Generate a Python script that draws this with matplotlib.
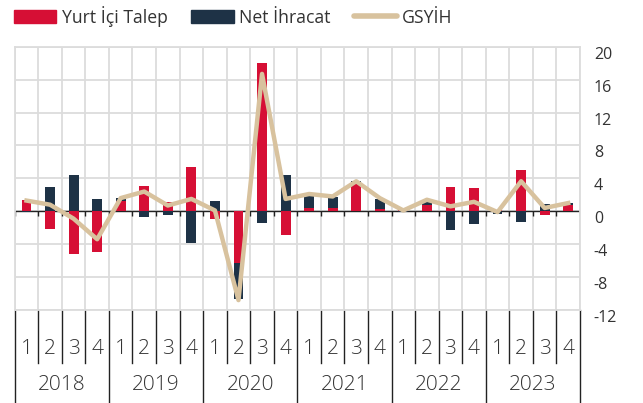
import numpy as np
import matplotlib.pyplot as plt
from matplotlib.patches import Patch
from matplotlib.lines import Line2D
from matplotlib.transforms import blended_transform_factory

plt.rcParams['font.family'] = ['Open Sans', 'DejaVu Sans']
plt.rcParams['axes.unicode_minus'] = False

# datos
years = ['2018', '2019', '2020', '2021', '2022', '2023']
quarters = ['1', '2', '3', '4']
yurt_ici = [1.4, -2.15, -5.2, -4.9, 1.3, 3.1, 1.1, 5.4,
            -1.0, -6.3, 18.0, -2.9, 0.4, 0.4, 3.4, 0.3,
            0.1, 0.8, 2.9, 2.8, 0.1, 5.0, -0.5, 0.75]
net_ihracat = [-0.1, 2.9, 4.4, 1.45, 0.3, -0.7, -0.5, -3.9,
               1.2, -4.4, -1.4, 4.4, 1.4, 1.3, 0.3, 1.25,
               -0.1, 0.4, -2.3, -1.5, -0.3, -1.35, 0.9, 0.25]
gsyih = [1.3, 0.8, -0.9, -3.4, 1.6, 2.4, 0.7, 1.5,
         0.1, -10.8, 16.7, 1.5, 2.1, 1.8, 3.65, 1.6,
         0.1, 1.4, 0.6, 1.15, -0.1, 3.65, 0.4, 1.0]

red = '#D60F35'
navy = '#1E3246'
beige = '#D8C29E'
grid = '#DCDCDC'

fig = plt.figure(figsize=(6.43, 4.03), dpi=100)
ax = fig.add_axes([0.0229, 0.2308, 0.8791, 0.6532])

n = len(yurt_ici)
x = np.arange(n) + 0.5
a = np.array(yurt_ici)
b = np.array(net_ihracat)

# apilado: positivos sobre positivos, negativos bajo negativos
a_bot = np.zeros(n)
b_bot = np.where(np.sign(b) == np.sign(a), a, 0.0)

w = 0.42
ax.bar(x, a, w, bottom=a_bot, color=red, zorder=3)
ax.bar(x, b, w, bottom=b_bot, color=navy, zorder=3)
ax.plot(x, gsyih, color=beige, lw=3.2, solid_joinstyle='round', zorder=4)

ax.set_xlim(0, n)
ax.set_ylim(-12, 20)
ax.set_yticks(np.arange(-12, 21, 4))
ax.set_xticks(np.arange(0, n + 1))
ax.grid(True, color=grid, lw=1.3, zorder=0)
ax.tick_params(axis='x', length=0, labelbottom=False)
ax.yaxis.tick_right()
ax.tick_params(axis='y', length=0, pad=10, labelsize=11.5, colors='#333333')
for lbl in ax.get_yticklabels():
    lbl.set_va('top')
for s in ax.spines.values():
    s.set_color(grid)
    s.set_linewidth(1.3)

# eje cero con marcas
ax.axhline(0, color='#222222', lw=1, zorder=2)
ax.vlines(np.arange(0, n + 1), -0.55, 0, color='#222222', lw=1, zorder=2)

# etiquetas de categorías en dos niveles
tr = blended_transform_factory(ax.transData, ax.transAxes)
for i in range(n + 1):
    bottom = -0.58 if i % 4 == 0 else -0.2
    ax.plot([i, i], [0, bottom], transform=tr, color='#222222', lw=1,
            clip_on=False)
for i in range(n):
    ax.text(i + 0.5, -0.148, quarters[i % 4], transform=tr, ha='center',
            va='center', fontsize=15, color='#333333', fontweight='light')
for j, yr in enumerate(years):
    ax.text(j * 4 + 2, -0.284, yr, transform=tr, ha='center', va='center',
            fontsize=15, color='#333333', fontweight='light')

handles = [Patch(color=red), Patch(color=navy),
           Line2D([0], [0], color=beige, lw=4, solid_capstyle='round')]
labels = ['Yurt İçi Talep', 'Net İhracat', 'GSYİH']
fig.legend(handles, labels, loc='upper left', bbox_to_anchor=(-0.003, 1.025),
           ncol=3, frameon=False, fontsize=12.7, handlelength=2.4,
           handleheight=0.8, columnspacing=1.35, handletextpad=0.3,
           labelcolor='#333333')

fig.savefig('out.png', dpi=100)
